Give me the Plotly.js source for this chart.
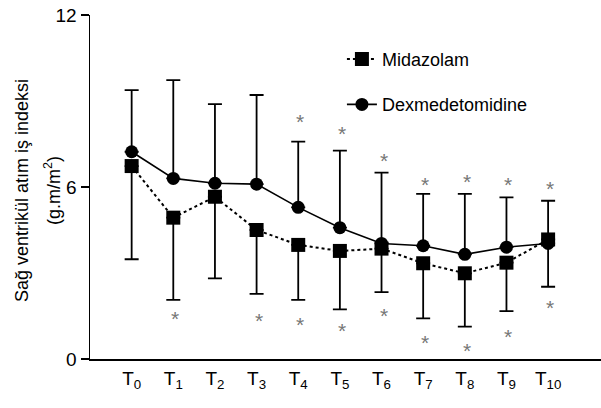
<!DOCTYPE html>
<html>
<head>
<meta charset="utf-8">
<script src="https://cdn.plot.ly/plotly-3.0.1.min.js"></script>
<style>html,body{margin:0;padding:0;background:#fff;}#chart{width:601px;height:408px;}</style>
</head>
<body>
<div id="chart"></div>
<script>
var categories = ["T0","T1","T2","T3","T4","T5","T6","T7","T8","T9","T10"];
var tickLabels = ["T<sub>0</sub>","T<sub>1</sub>","T<sub>2</sub>","T<sub>3</sub>","T<sub>4</sub>","T<sub>5</sub>","T<sub>6</sub>","T<sub>7</sub>","T<sub>8</sub>","T<sub>9</sub>","T<sub>10</sub>"];
var midazolamMean = [6.73, 4.93, 5.66, 4.50, 3.98, 3.77, 3.85, 3.34, 2.99, 3.36, 4.17];
var midazolamLower = [3.48, 2.06, 2.81, 2.27, 2.06, 1.73, 2.33, 1.42, 1.13, 1.67, 2.52];
var dexMean = [7.23, 6.30, 6.13, 6.10, 5.29, 4.58, 4.03, 3.95, 3.65, 3.90, 4.03];
var dexUpper = [9.38, 9.73, 8.89, 9.21, 7.58, 7.27, 6.50, 5.76, 5.76, 5.64, 5.52];
var starAbove = [null, null, null, null, 8.34, 7.95, 7.00, 6.16, 6.27, 6.16, 6.03];
var starBelow = [null, 1.48, null, 1.43, 1.28, 1.07, 1.59, 0.63, 0.37, 0.86, 1.88];

var zeros = categories.map(function(){return 0;});
var midMinus = midazolamMean.map(function(m,i){return m - midazolamLower[i];});
var dexPlus = dexMean.map(function(m,i){return dexUpper[i] - m;});

var FONT = "Liberation Sans, Arial, sans-serif";

var traces = [
  {
    x: categories, y: midazolamMean, name: "Midazolam", type: "scatter", mode: "lines+markers",
    line: {color: "#000", width: 2, dash: "dot"},
    marker: {symbol: "square", size: 14, color: "#000"},
    error_y: {type: "data", symmetric: false, array: zeros, arrayminus: midMinus, color: "#000", thickness: 1.8, width: 7},
    legendgroup: "a"
  },
  {
    x: categories, y: dexMean, name: "Dexmedetomidine", type: "scatter", mode: "lines+markers",
    line: {color: "#000", width: 1.6},
    marker: {symbol: "circle", size: 13, color: "#000"},
    error_y: {type: "data", symmetric: false, array: dexPlus, arrayminus: zeros, color: "#000", thickness: 1.8, width: 7},
    legendgroup: "b"
  }
];

var annotations = [
  {text: "Sağ ventrikül atım iş indeksi", xref: "paper", yref: "paper", x: 0, y: 0.5,
   xanchor: "center", yanchor: "middle", xshift: -68, yshift: -4, textangle: -90, showarrow: false,
   font: {family: FONT, size: 18, color: "#000"}},
  {text: "(g.m/m<sup>2</sup>)", xref: "paper", yref: "paper", x: 0, y: 0.5,
   xanchor: "center", yanchor: "middle", xshift: -38, yshift: -4, textangle: -90, showarrow: false,
   font: {family: FONT, size: 18, color: "#000"}}
];
[starAbove, starBelow].forEach(function(arr){
  arr.forEach(function(v, i){
    if (v === null) return;
    annotations.push({text: "*", xref: "x", yref: "y", x: categories[i], y: v,
      xanchor: "center", yanchor: "middle", yshift: -2, xshift: 2, showarrow: false,
      font: {family: FONT, size: 21, color: "#777"}});
  });
});

var layout = {
  width: 601, height: 408,
  margin: {l: 90, r: 0, t: 15, b: 49},
  paper_bgcolor: "#fff", plot_bgcolor: "#fff",
  font: {family: FONT, size: 18, color: "#000"},
  showlegend: true,
  legend: {x: 0.493, y: 0.925, xanchor: "left", yanchor: "top", bgcolor: "rgba(0,0,0,0)",
           font: {family: FONT, size: 18, color: "#000"}, tracegroupgap: 19},
  xaxis: {
    type: "category", range: [-1, 11.27], showgrid: false, zeroline: false,
    showline: true, linecolor: "#000", linewidth: 1.5, ticks: "",
    tickvals: categories, ticktext: tickLabels, ticklabelstandoff: 2,
    tickfont: {family: FONT, size: 19, color: "#000"}, fixedrange: true
  },
  yaxis: {
    range: [0, 12], tickvals: [0, 6, 12], ticktext: ["0", "6", "12"],
    showgrid: false, zeroline: false, showline: true, linecolor: "#000", linewidth: 1.5,
    ticks: "outside", ticklen: 8, tickwidth: 1.5, tickcolor: "#000",
    tickfont: {family: FONT, size: 19, color: "#000"}, fixedrange: true
  },
  annotations: annotations
};

Plotly.newPlot("chart", traces, layout, {displayModeBar: false, staticPlot: true});
</script>
</body>
</html>
